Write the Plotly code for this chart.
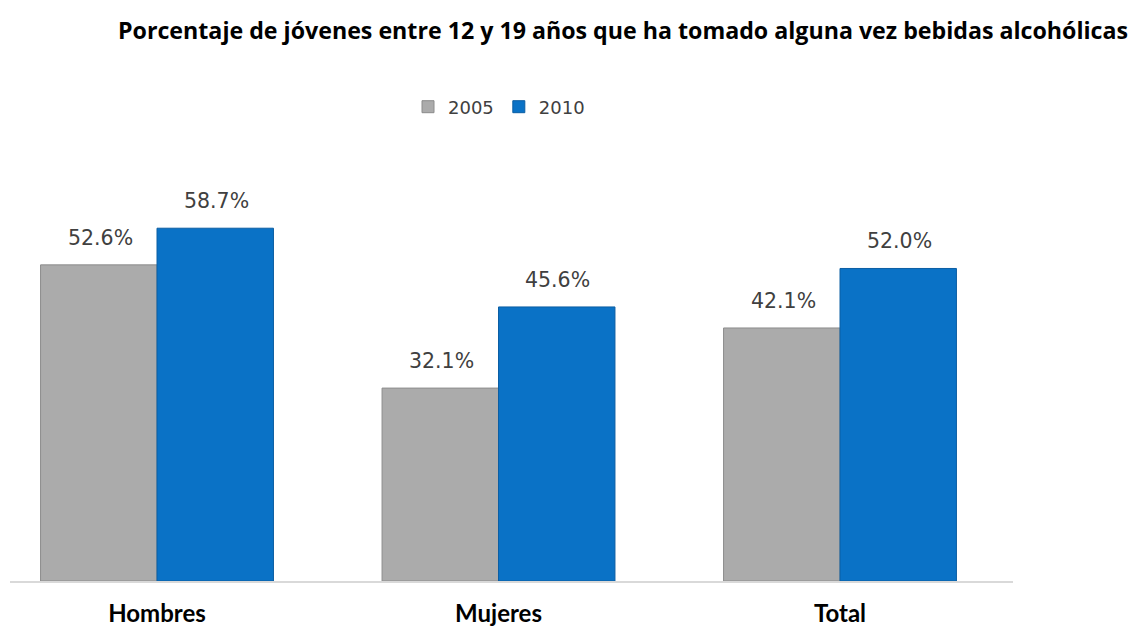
import plotly.graph_objects as go

categories = ["Hombres", "Mujeres", "Total"]
series_names = ["2005", "2010"]
values_2005 = [52.6, 32.1, 42.1]
values_2010 = [58.7, 45.6, 52.0]
title_text = "Porcentaje de jóvenes entre 12 y 19 años que ha tomado alguna vez bebidas alcohólicas"

colors = {"2005": "#ababab", "2010": "#0a72c6"}
edge = {"2005": "#8c8c8c", "2010": "#0b5ea3"}

# page body has an 8px margin, so the figure is drawn 8px in from the window edge
W, H = 1120, 619
ml, mr, mt, mb = 2, 115, 142, 46
PW, PH = W - ml - mr, H - mt - mb


def px_x(x):
    return (x - ml) / PW


def px_y(y):
    return (H - mb - y) / PH


fig = go.Figure()
for name, vals in zip(series_names, [values_2005, values_2010]):
    fig.add_trace(go.Bar(
        x=categories, y=vals, name=name,
        marker=dict(color=colors[name], line=dict(color=edge[name], width=1)),
        hoverinfo="skip",
    ))

# value labels
offset_px = 58
for name, vals, sh in zip(series_names, [values_2005, values_2010], [-offset_px, offset_px]):
    for c, v in zip(categories, vals):
        fig.add_annotation(x=c, y=v, xref="x", yref="y", text=f"{v:.1f}%",
                           showarrow=False, xshift=sh + 1, yshift=27, yanchor="middle",
                           font=dict(family="DejaVu Sans", size=20.5, color="#404040"))

fig.add_annotation(x=px_x(615), y=px_y(22), xref="paper", yref="paper",
                   xanchor="center", yanchor="middle",
                   text=f"<b>{title_text}</b>", showarrow=False,
                   font=dict(family="Open Sans", size=23.2, color="#000000"))

fig.update_layout(
    width=W, height=H,
    margin=dict(l=ml, r=mr, t=mt, b=mb, pad=0, autoexpand=False),
    paper_bgcolor="white", plot_bgcolor="white",
    barmode="group", bargap=0.318, bargroupgap=0,
    showlegend=True,
    legend=dict(orientation="h", x=px_x(491), xanchor="center",
                y=px_y(99), yanchor="middle",
                font=dict(family="DejaVu Sans", size=18, color="#404040"),
                itemwidth=30, traceorder="normal"),
    xaxis=dict(range=[-0.4305, 2.5066], showline=True, linecolor="#d9d9d9", linewidth=2,
               showgrid=False, zeroline=False, ticks="", ticklabelstandoff=10,
               automargin=False,
               tickfont=dict(family="Lato", size=24, color="#000000"),
               tickprefix="<b>", ticksuffix="</b>"),
    yaxis=dict(range=[0, 431 / 6.01], visible=False, showgrid=False, zeroline=False,
               automargin=False),
)

fig.write_html("out.html")
